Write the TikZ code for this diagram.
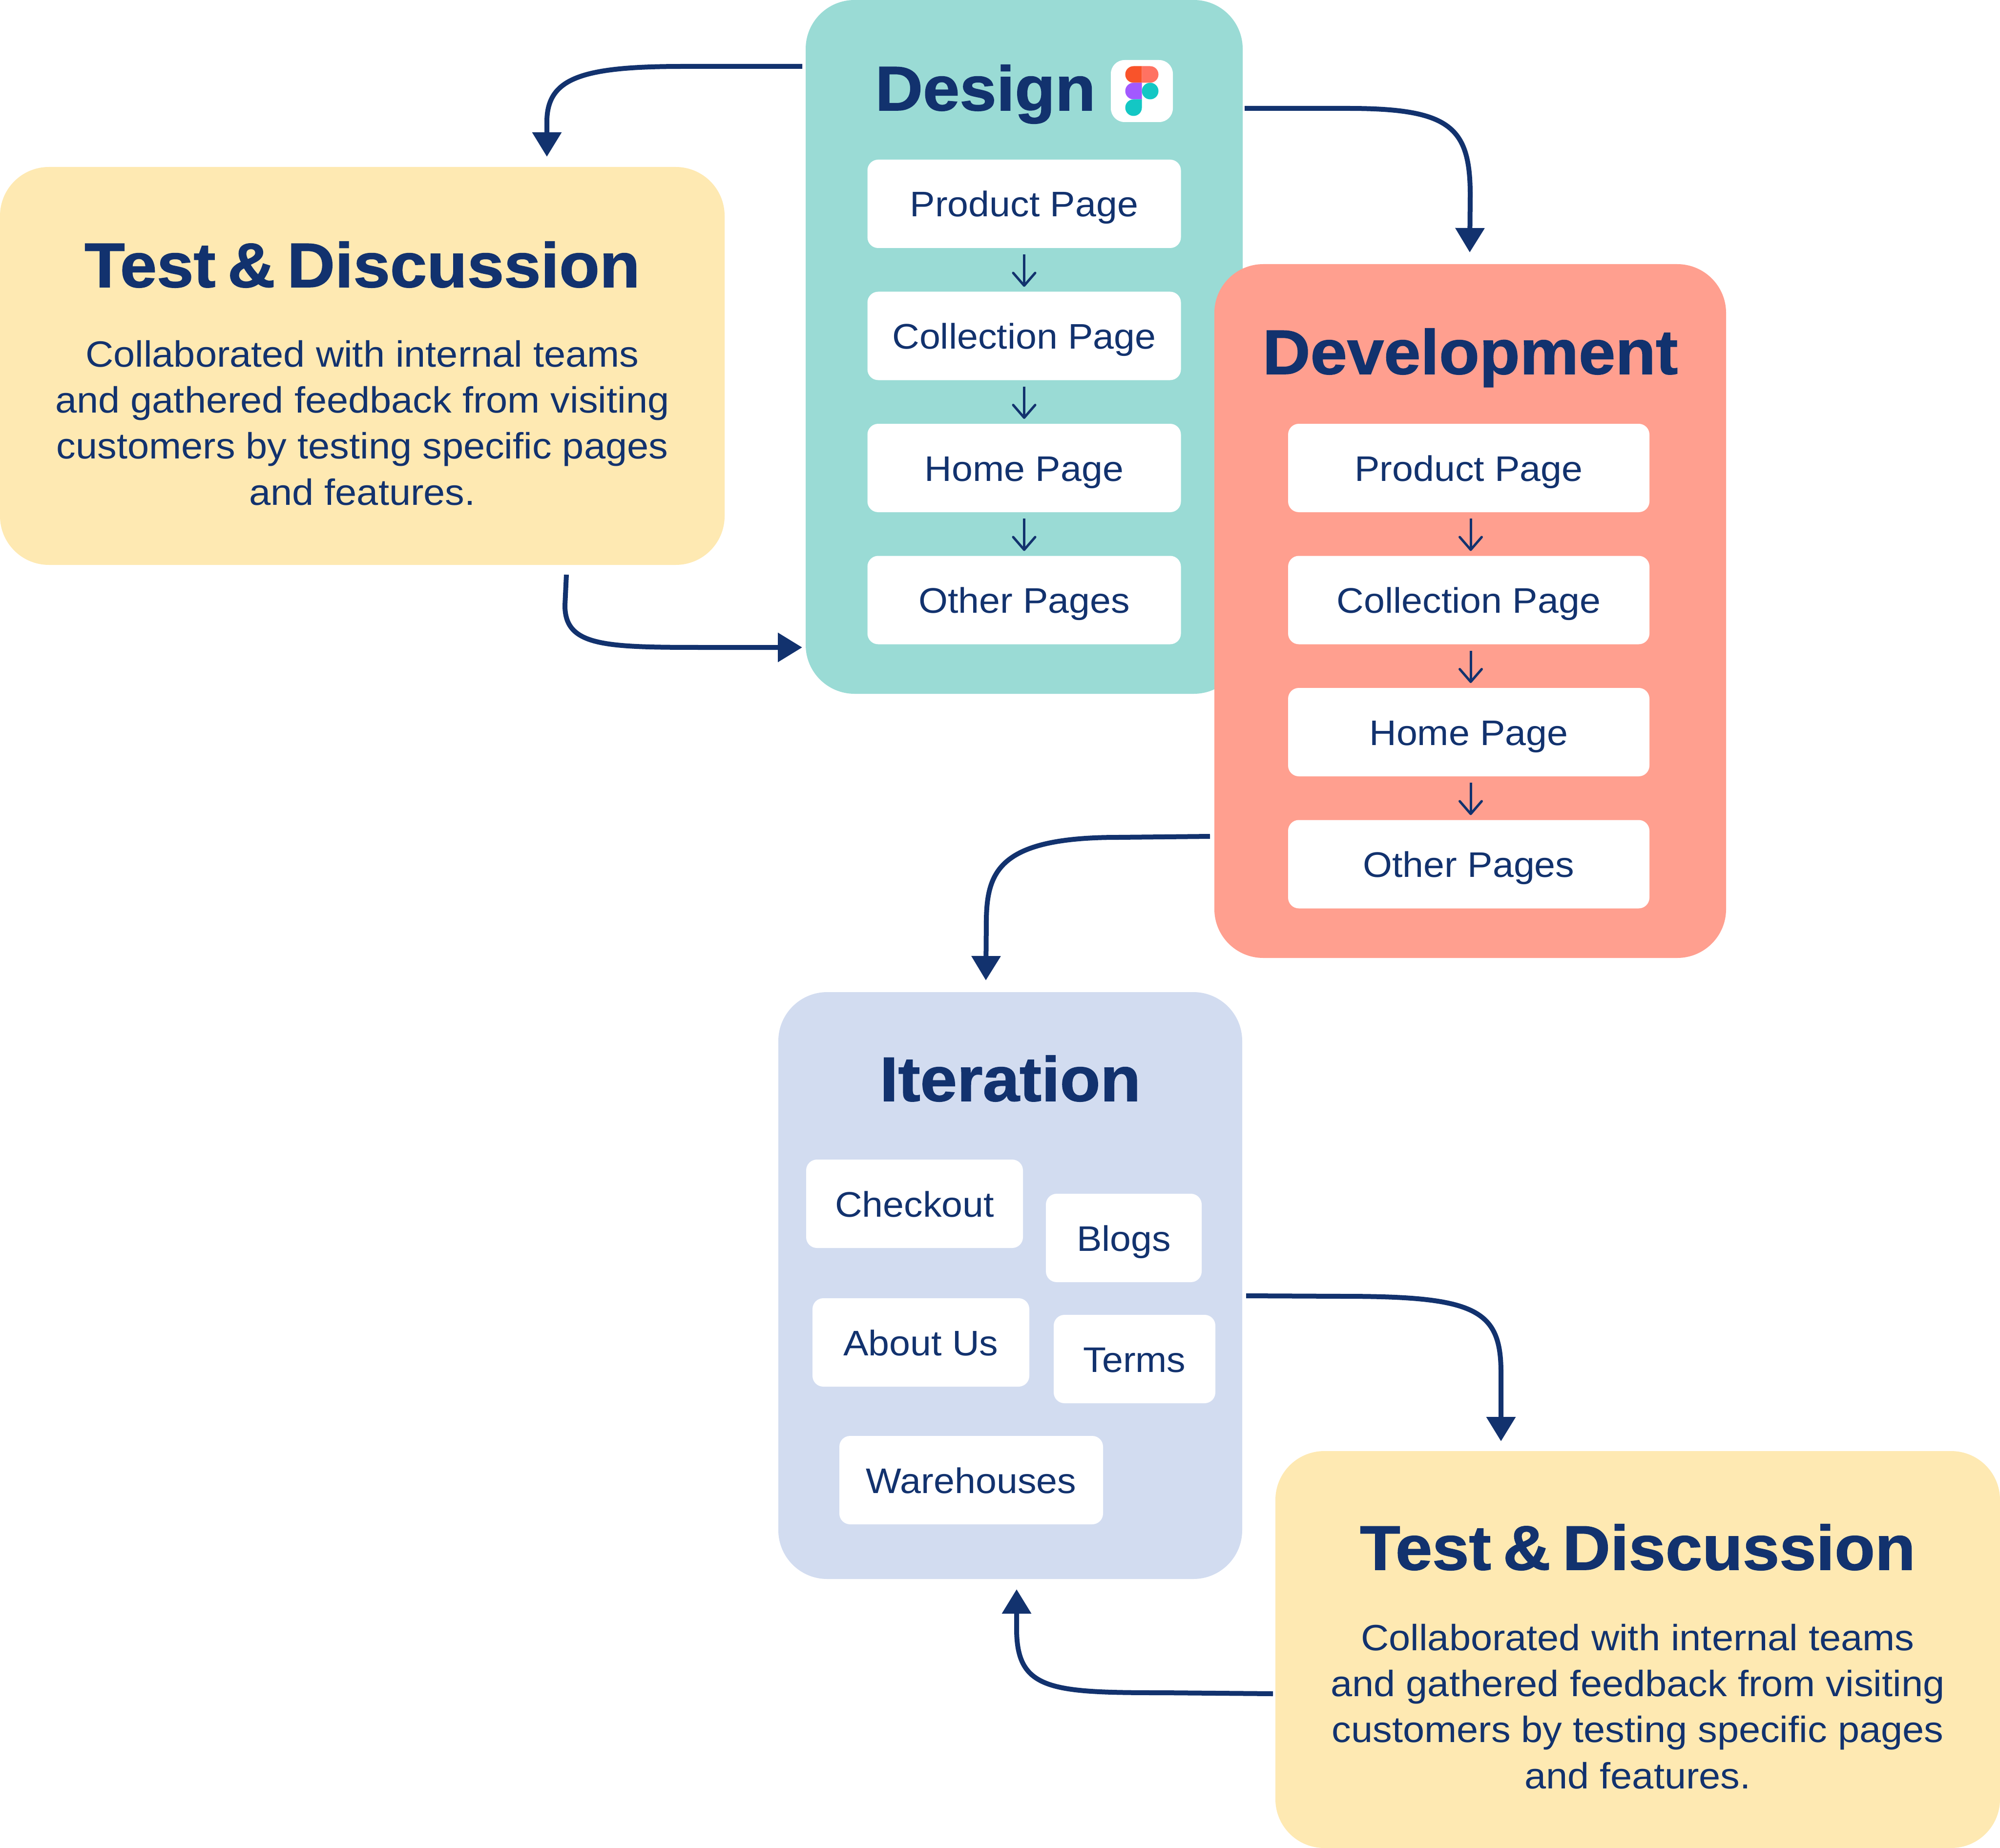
\documentclass[tikz,border=0pt]{standalone}
\usepackage{fontspec}
\usepackage{tikz}
\usetikzlibrary{arrows.meta,positioning,calc}
\setmainfont{Liberation Sans}[FakeStretch=1.06]
\newfontfamily\headfont{Liberation Sans Bold}[FakeBold=1.2,FakeStretch=1.05,WordSpace=.65]
\definecolor{navy}{HTML}{12326E}
\definecolor{designteal}{HTML}{9ADBD5}
\definecolor{devsalmon}{HTML}{FF9F8F}
\definecolor{testyellow}{HTML}{FEE9B2}
\definecolor{iterblue}{HTML}{D2DCF0}
\definecolor{figred}{HTML}{F9532A}
\definecolor{figpink}{HTML}{FF7262}
\definecolor{figpurple}{HTML}{A259FF}
\definecolor{figteal}{HTML}{13C7C4}

\begin{document}
\begin{tikzpicture}[
    panel/.style={rounded corners=1cm, inner sep=0pt, outer sep=0pt, anchor=north west},
    pagebox/.style={fill=white, rounded corners=.22cm, inner sep=0pt, outer sep=0pt, minimum height=1.81cm, text=navy,
      text height=.53cm, text depth=0pt, font=\fontsize{20.7}{27}\selectfont},
    heading/.style={anchor=base, inner sep=0pt, text=navy, font=\headfont\fontsize{36.7}{44}\selectfont},
    body/.style={anchor=base, inner sep=0pt, align=center, text=navy, font=\fontsize{21.3}{26.8}\selectfont},
    flow/.style={-{Triangle[length=.5cm,width=.58cm]}, navy, line width=.1cm},
    stepline/.style={-{Straight Barb[length=.26cm,width=.45cm,round]}, navy, line width=.05cm, shorten <=.13cm, shorten >=.1cm},
  ]
    \useasboundingbox (0,0) rectangle (40.96,-37.85);

    \node[panel, fill=testyellow, minimum width=14.84cm, minimum height=8.15cm] (testa) at (0,-3.42) {};
    \node[panel, fill=designteal, minimum width=8.95cm, minimum height=14.21cm] (design) at (16.5,0) {};
    \node[panel, fill=devsalmon, minimum width=10.48cm, minimum height=14.21cm] (dev) at (24.87,-5.41) {};
    \node[panel, fill=iterblue, minimum width=9.5cm, minimum height=12.02cm] (iter) at (15.94,-20.32) {};
    \node[panel, fill=testyellow, minimum width=14.84cm, minimum height=8.13cm] (testb) at (26.12,-29.72) {};

    \node[heading] (testahead) at ([yshift=-2.46cm]testa.north) {Test \& Discussion};
    \node[body] (testatext) at ([yshift=-6.92cm]testa.north) {Collaborated with internal teams\\and gathered feedback from visiting\\customers by testing specific pages\\and features.};

    \node[heading] (designhead) at ([xshift=-.795cm,yshift=-2.26cm]design.north) {Design};
    \node[fill=white, rounded corners=.28cm, minimum width=1.27cm, minimum height=1.27cm, inner sep=0pt] (figicon) at (23.385,-1.865) {};
    \begin{scope}[shift={(figicon.center)}, x=.34cm, y=.34cm]
      \fill[figred] (0,1.5) -- (-.5,1.5) arc (90:270:.5) -- (0,.5) -- cycle;
      \fill[figpink] (0,1.5) -- (.5,1.5) arc (90:-90:.5) -- (0,.5) -- cycle;
      \fill[figpurple] (0,.5) -- (-.5,.5) arc (90:270:.5) -- (0,-.5) -- cycle;
      \fill[figteal] (.5,0) circle (.5);
      \fill[figteal] (0,-.5) -- (-.5,-.5) arc (90:270:.5) arc (-90:0:.5) -- cycle;
    \end{scope}
    \node[pagebox, minimum width=6.42cm, below=3.27cm of design.north] (dproduct) {Product Page};
    \node[pagebox, minimum width=6.42cm, below=.895cm of dproduct] (dcollection) {Collection Page};
    \node[pagebox, minimum width=6.42cm, below=.895cm of dcollection] (dhome) {Home Page};
    \node[pagebox, minimum width=6.42cm, below=.895cm of dhome] (dother) {Other Pages};
    \draw[stepline] (dproduct) -- (dcollection);
    \draw[stepline] (dcollection) -- (dhome);
    \draw[stepline] (dhome) -- (dother);

    \node[heading] (devhead) at ([yshift=-2.25cm]dev.north) {Development};
    \node[pagebox, minimum width=7.4cm, below=3.27cm of dev.north, xshift=-.03cm] (vproduct) {Product Page};
    \node[pagebox, minimum width=7.4cm, below=.895cm of vproduct] (vcollection) {Collection Page};
    \node[pagebox, minimum width=7.4cm, below=.895cm of vcollection] (vhome) {Home Page};
    \node[pagebox, minimum width=7.4cm, below=.895cm of vhome] (vother) {Other Pages};
    \draw[stepline] ([xshift=.04cm]vproduct.south) -- ([xshift=.04cm]vcollection.north);
    \draw[stepline] ([xshift=.04cm]vcollection.south) -- ([xshift=.04cm]vhome.north);
    \draw[stepline] ([xshift=.04cm]vhome.south) -- ([xshift=.04cm]vother.north);

    \node[heading] (iterhead) at ([yshift=-2.23cm]iter.north) {Iteration};
    \node[pagebox, minimum width=4.44cm] (checkout) at (18.73,-24.655) {Checkout};
    \node[pagebox, minimum width=3.19cm] (blogs) at (23.015,-25.355) {Blogs};
    \node[pagebox, minimum width=4.44cm] (about) at (18.86,-27.495) {About Us};
    \node[pagebox, minimum width=3.31cm] (terms) at (23.235,-27.835) {Terms};
    \node[pagebox, minimum width=5.4cm] (warehouses) at (19.89,-30.315) {Warehouses};

    \node[heading] (testbhead) at ([yshift=-2.43cm]testb.north) {Test \& Discussion};
    \node[body] (testbtext) at ([yshift=-6.91cm]testb.north) {Collaborated with internal teams\\and gathered feedback from visiting\\customers by testing specific pages\\and features.};

    \draw[flow] ([shift={(-.07,-1.36)}]design.north west) -- ++(-2.43,0)
      .. controls +(-2.1,0) and +(0,.9) .. ++(-2.8,-1.14) -- ([shift={(11.2,.21)}]testa.north west);
    \draw[flow] ([shift={(11.6,-.2)}]testa.south west) -- ++(-.03,-.63)
      .. controls +(0,-.85) and +(-2.1,0) .. ++(2.93,-.86) -- ([shift={(-.07,-13.26)}]design.north west);
    \draw[flow] ([shift={(.04,-2.22)}]design.north east) -- ++(2.11,0)
      .. controls +(2.1,0) and +(0,1.4) .. ++(2.51,-1.78) -- ([shift={(-.01,.24)}]dev.north);
    \draw[flow] ([shift={(-.09,-11.72)}]dev.north west) -- ++(-1.88,-.02)
      .. controls +(-2.4,0) and +(.02,1) .. ++(-2.7,-1.67) -- ([shift={(4.25,.24)}]iter.north west);
    \draw[flow] ([shift={(.08,-6.22)}]iter.north east) -- ++(1.98,-.01)
      .. controls +(2.7,0) and +(0,1.3) .. ++(3.24,-1.56) -- ([shift={(4.62,.2)}]testb.north west);
    \draw[flow] ([shift={(-.05,-4.97)}]testb.north west) -- ++(-2.27,.02)
      .. controls +(-2.3,0) and +(0,-1.25) .. ++(-2.98,1.31) -- ([shift={(4.88,-.21)}]iter.south west);
  \end{tikzpicture}
\end{document}
